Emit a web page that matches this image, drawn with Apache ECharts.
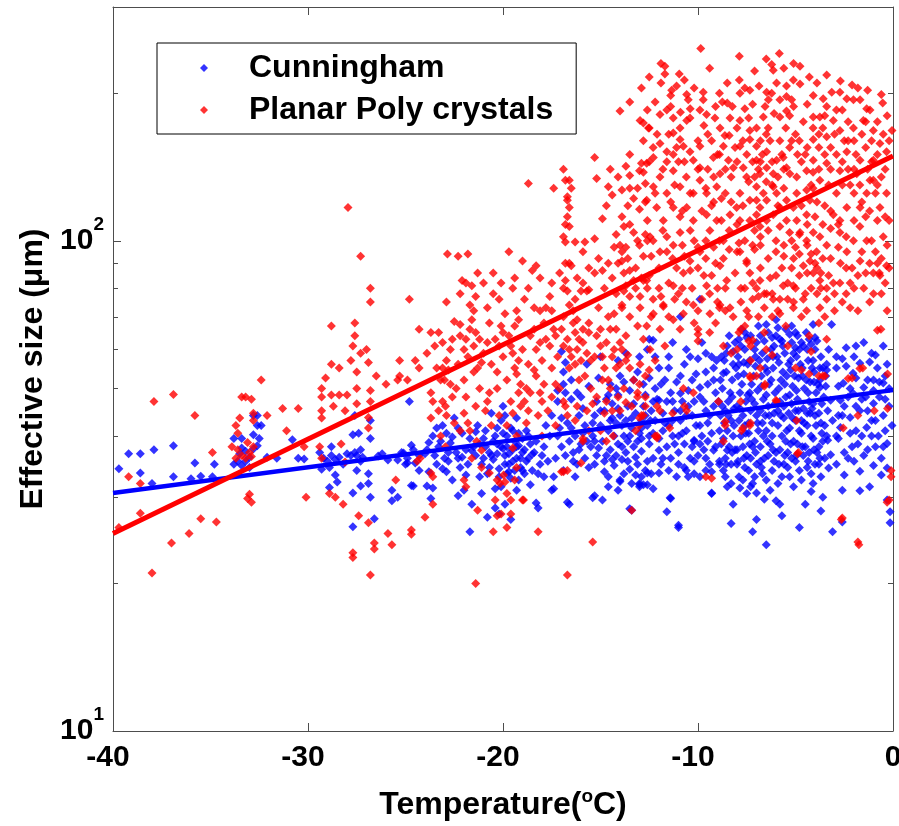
<!DOCTYPE html>
<html>
<head>
<meta charset="utf-8">
<script src="https://cdn.jsdelivr.net/npm/echarts@6/dist/echarts.min.js"></script>
<style>
  html, body { margin: 0; padding: 0; background: #fff; }
  #chart { width: 899px; height: 826px; }
</style>
</head>
<body>
<div id="chart"></div>
<script>
// tick values
const xTicks = [-40, -30, -20, -10, 0]
const yMajorTicks = [10, 100]
const yMinorTicks = [20, 30, 40, 50, 60, 70, 80, 90, 200]

// fitted lines (end points)
const cunninghamFit = [[-40, 30.6], [0, 49.6]]
const planarFit = [[-40, 25.3], [0, 149]]

// Cunningham points [temperature, size]
const cunninghamPts = [
  [-39.7,34.3],[-39.2,36.8],[-38.6,36.8],[-38.6,33.6],[-37.9,37.5],[-38,32],[-36.9,38.2],[-36.9,33],[-35.8,35.2],[-36,32.7],[-35.5,33.1],[-34.8,35],[-34.9,33],
  [-33.8,39.5],[-33.4,39.5],[-33.4,37.8],[-33.2,37.2],[-33.6,35.5],[-33.8,35],[-33.4,34.8],[-33.2,35.5],[-33,36.2],[-32.8,37.6],[-32.6,38.2],[-32.5,39.5],[-32.8,40.2],[-32.8,44],[-32.6,44],[-32.6,42],[-33.5,36.8],[-33,34.5],
  [-32.4,42],[-32.1,36.2],[-31.6,36],[-30.8,39.3],[-30.5,36],[-30.2,35.9],
  [-29.4,37],[-29.2,36],[-29,35.5],[-28.8,36.5],[-28.6,35.8],[-28.4,36.2],[-28.2,35],[-28.8,38],[-28.9,34.5],[-28.6,33.3],[-28.5,32.2],[-28.9,31.4],[-29.3,34.2],[-28,36.8],
  [-27.7,40.2],[-27.6,44],[-27.4,40.5],[-27.3,37.5],[-27.6,37],[-27.8,36.5],[-27.3,35.5],[-27.5,34],[-27.3,31.6],[-27.7,30.6],[-27.7,26.1],[-27.5,36.5],[-27.2,36.2],
  [-26.8,43],[-26.8,39.5],[-26.9,33.5],[-26.9,32],[-26.8,30],[-26.6,27.1],[-26.4,36.4],[-25.9,35.7],[-25.4,35.7],[-25.7,31],[-25.7,29.5],[-25.4,30],[-24.8,47],[-24.9,35.2],[-24.7,31.7],[-26.2,36.8],[-25.1,36.9],
  [-25.2,37],[-24.9,36],[-24.6,37.5],[-24.3,36.5],[-25,35],[-24.5,35.2],[-24,36.8],[-24.7,38.3],
  [-23.6,40],[-23.3,38],[-23,36],[-22.7,38.7],[-22.4,37],[-22.1,40.5],[-23.4,35],[-22.9,33.8],[-22.2,34.5],[-23.1,42],[-22.5,43.5],[-21.9,37.5],[-23.8,33.8],[-22.6,32.5],
  [-23.6,31.3],[-24.6,31.6],[-23.9,31.6],[-23.7,29.8],[-22,31],[-21.6,29],[-21.7,25.5],[-20.8,27.3],[-20.4,28.5],[-20.2,27.7],[-18.3,29.2],[-17.5,31],[-16.7,29.3],[-15.4,29.9],[-14.9,29.6],[-14,32.3],[-13.5,28.4],[-13,31.8],[-12.6,31.8],
  [-21.3,42],[-21,39.5],[-20.7,37],[-20.4,40],[-20.1,43],[-19.8,38],[-19.5,35.5],[-19.2,40.5],[-18.9,37.5],[-21.1,35],[-20.8,33.5],[-20.5,35.8],[-20.2,33],[-19.9,35],[-19.6,32.8],[-19,34],[-21.5,38],[-20.6,44.5],[-20,46],[-19.3,43.5],[-18.8,41],
  [-20.1,38],[-19.9,36.5],[-19.7,35],[-19.5,37.5],[-19.3,36],[-19.1,34.5],[-19.8,33.5],[-19.4,39],[-19,37],[-18.8,35.5],[-20,40.5],[-19.6,41.5],[-18.6,38.5],[-19.2,32.5],[-20.1,31.5],[-19.9,29],[-19.6,27],[-18.5,34],[-18.2,28.5],[-17.4,31.2],[-16.6,29],
  [-24.3,34],[-23.9,37.5],[-23.5,36.5],[-23.2,39],[-22.8,37],[-22.3,36],[-21.8,35],[-21.4,36.5],[-21.2,33],[-20.9,38],[-20.6,36.5],[-20.3,38.5],[-19.7,36.8],[-19.4,34],[-19.2,38.2],[-18.7,36],[-18.4,37],[-18.1,35],[-17.9,38],[-17.8,42],[-21.7,39.5],[-22.9,40.5],[-20.3,41.5],[-19.9,44],
  [-23.8,38.8],[-23.4,41.5],[-23.1,34.3],[-22.8,35.5],[-22.6,39.8],[-22.3,41.5],[-22.1,36.2],[-21.9,33.3],[-21.6,37.3],[-21.4,40.8],[-21.2,38.5],[-21,36],[-20.9,41],[-20.7,34.5],[-20.5,39],
  [-20.3,36.8],[-20.2,34.3],[-20,37.7],[-19.8,40],[-19.7,33.8],[-19.5,41],[-19.3,38],[-19.1,36],[-19,39.5],[-18.9,33.5],[-18.7,40],[-18.5,36.7],[-18.3,39],[-18.2,33.5],[-18,36.5],
  [-20.4,31.2],[-21.1,30.5],[-22.3,30.2],[-19.3,31],[-18.6,31.8],[-17.9,33],[-17.1,41.5],[-16.7,42.5],[-16.3,40],[-15.8,42],[-15.4,42.5],[-17.2,49.5],[-16.5,52],[-15.6,50.5],[-15.1,52.5],[-16.9,54],[-15.7,56],
  [-17.2,40],[-17,38],[-16.8,36.5],[-16.6,39],[-16.4,37],[-16.2,35],[-16,38.5],[-15.8,36],[-15.6,34.5],[-16.9,34],[-16.5,41.5],[-15.9,40.5],[-17.3,36],[-16.3,33],[-15.5,38],[-17,43.5],[-16.1,44],
  [-17,59.5],[-16.8,56.5],[-16.9,51],[-16.5,47.5],[-16.2,49],[-16.8,49],
  [-17.6,40],[-17.5,44],[-17.2,47],[-16,48],[-15.9,45.5],[-17.7,35.5],[-17.4,33],
  [-16.4,35.5],[-16.1,37.5],[-15.7,39],[-15.3,35],[-15.1,37.8],[-14.7,36.5],[-14.2,36.5],[-13.8,33.5],[-13.6,39],[-13.2,36.2],[-12.9,39.5],[-12.6,35.5],[-14.4,43.5],[-13.9,42],[-13.4,43.5],[-12.9,43],[-15.3,44],[-14.1,48.5],[-13.5,49.5],[-12.7,48.5],
  [-15.3,39],[-15,45],[-14.7,47.5],[-14.5,43],[-14.3,40],[-14.1,45.5],[-13.9,38],[-13.7,43],[-13.5,40],[-13.3,46.5],[-13.1,39],[-12.9,41.5],[-12.7,44],[-12.5,40],[-12.3,47],
  [-14.8,33.8],[-14.4,35.8],[-13.6,35.5],[-12.9,33],[-12.4,33.5],[-13.2,33.3],[-14.6,48.5],[-13.8,51.5],[-13.1,54],[-12.5,52.5],[-14.2,50],[-12.2,58],
  [-15,58],[-14.1,57],[-13.7,59],[-13,58],[-12.6,60],[-14.5,51],[-14,53],[-13.3,52],[-12.8,51],
  [-15.2,47],[-14.8,45],[-14.4,46.5],[-14,44],[-13.6,46],[-13.2,44.5],[-12.8,46],[-12.4,45],[-15,42],[-14.6,41],[-14.2,42.5],[-13.8,40],[-13.4,41.5],[-13,40.5],[-12.6,42],
  [-14.9,39],[-14.5,37.5],[-14.1,38.5],[-13.7,37],[-13.3,38],[-12.9,37.2],[-12.5,38.5],[-14.8,35.5],[-14.3,34.8],[-13.9,35.8],[-13.5,34.2],[-13.1,35],[-12.7,34],
  [-14.6,33],[-14,32.5],[-13.4,32],[-12.8,31.8],[-15.2,36.5],[-15.4,40],[-12.3,36],
  [-14.6,31.5],[-14.1,31],[-13,31.5],[-12.3,31.2],[-11.4,29.8],[-11,26],[-13.4,28.2],[-15.3,30.2],
  [-12,55],[-11.7,52],[-11.4,49],[-11.1,51.5],[-10.8,47],[-10.5,49.5],[-12.1,47.5],[-11.8,44.5],[-11.5,42],[-11.2,45],[-10.9,43],[-10.6,41],[-10.3,44],
  [-12,39.5],[-11.6,38],[-11.3,40],[-11,37],[-10.7,38.5],[-10.4,36],[-11.9,35],[-11.5,34],[-11.1,33],[-10.7,34.5],[-10.2,39],[-9.9,42],[-9.6,45],[-9.3,40.5],
  [-9.7,37.5],[-9.4,35],[-9.1,38],[-9.9,48],[-9.5,51],[-10.1,53.5],[-9.2,55],[-11.5,58],[-10.6,60],[-9.8,62],[-9.9,76],[-10.9,70],[-12.5,63],
  [-12.2,50],[-11.8,41],[-11.4,36],[-11,40],[-10.6,44],[-10.2,47],[-9.8,40],[-9.5,42.5],[-9.2,46],[-12.2,43],[-11.6,47],[-10.9,53],[-10.3,52],[-9.6,54],[-9.1,49],[-10,36.5],[-10.5,33],[-9.3,33.8],[-12.3,40.5],[-11.9,51],
  [-11.7,42.5],[-11.3,47],[-10.9,45],[-10.5,46],[-10.1,42],[-9.7,47],[-9.4,44],[-11.2,38.5],[-10.8,40.5],[-10.3,38],[-9.9,38.5],[-9.5,39],[-11.5,55],[-10.7,56],[-10,57.5],[-9.3,58],
  [-11.8,36],[-11,35],[-10.2,33.5],[-9.6,34],
  [-9.9,33],[-9.3,30.5],[-10.2,35.5],[-9.2,37.4],[-8.9,35.5],
  [-12.3,62.7],[-11.3,62],[-10.4,58],[-9.6,59],[-9.05,57],[-8.7,53.7],[-9.2,52],[-9.9,50.2],[-10.9,48.9],[-12,47.3],[-12.45,43],[-11.3,43],[-10.2,39.2],
  [-9.6,36],[-12,37.4],[-12.6,33.6],[-13,32],[-12,33.6],[-10.6,34],[-8.5,37.4],[-8.9,35],
  [-11.43,29.9],[-11.6,28],[-11,26.3],[-9.3,30.6],[-7.85,31.3],[-7.3,31.5],[-7,30.6],[-6.6,29.7],[-5.8,29],[-4.2,30.8],[-3.7,28.1],[-2.6,26.7],[-1.7,30.9],
  [-0.15,28],[-0.15,26.6],[-0.3,29.6],[-0.3,34.4],[-0.6,33.3],[-0.3,38.6],[-0.05,42],[-0.75,40],[-1,34.8],[-1.7,33.9],[-2.5,33.3],[-2.1,38],[-2.5,37],
  [-3.2,36.6],[-3.35,39.2],[-3.3,34.4],[-1.2,56.6],[-0.5,61],[-1.7,56.3],[-2.05,53.7],[-2.55,51.2],[-2.7,47.3],[-2.05,48.9],[-1.5,50.2],[-1,52],[-0.5,51.3],
  [-1,46.6],[-1.7,45],[-2.2,43.6],[-1.35,41.6],[-2.7,41.6],[-3.2,47.3],[-3.15,67.5],[-4.1,57],[-3.4,54.5],[-3.75,50.2],
  [-2.9,55],[-2.6,44],[-2.3,48],[-2,58],[-1.9,46],[-1.6,40],[-1.4,48],[-1.1,43],[-0.8,55],[-0.5,44],[-0.2,50],[-2.8,50.5],[-2.4,55.5],[-1.3,52],[-0.7,48],
  [-2.9,35],[-2.2,40.5],[-1.5,36.5],[-0.9,38],[-0.4,41],[-2.6,31],[-1.2,31.5],[-0.6,36],
  [-2.8,44],[-2.5,46],[-2.2,50],[-1.9,52.5],[-1.6,47.5],[-1.3,45],[-1,49.5],[-0.7,51.5],[-0.4,53],[-0.2,46],[-2.9,40],[-2.3,36],[-1.8,38.5],[-1.1,40],[-0.5,38],
  [-2.6,57.5],[-1.9,61],[-1.1,59],[-0.3,56],
  [-8.8,58],[-8.75,50],[-8.85,44],[-8.8,38.5],[-8.7,34],
  [-8.5,61],[-8.55,54],[-8.45,47],[-8.5,41],[-8.6,36],[-8.5,31.5],
  [-8.2,56],[-8.25,52],[-8.15,45.5],[-8.2,40],[-8.3,35],[-8.2,29],
  [-7.9,63],[-7.95,58],[-7.85,49],[-7.9,43],[-8,37.5],[-7.9,33],
  [-7.6,60],[-7.65,53.5],[-7.55,47],[-7.6,42],[-7.7,38],[-7.6,34.5],[-7.5,30.5],
  [-7.3,64],[-7.35,57],[-7.25,51],[-7.3,45],[-7.4,40.5],[-7.3,36],[-7.2,32],
  [-7,62],[-7.05,55.5],[-6.95,49.5],[-7,44],[-7.1,39],[-7,35],[-7,27],
  [-6.7,59],[-6.75,53],[-6.65,47.5],[-6.7,42.5],[-6.8,38],[-6.7,33.5],
  [-6.4,65],[-6.45,57.5],[-6.35,51],[-6.4,46],[-6.5,41],[-6.4,36.5],[-6.3,31],
  [-6.1,61],[-6.15,55],[-6.05,49],[-6.1,44.5],[-6.2,40],[-6.1,35.5],[-6,29.5],
  [-5.8,63],[-5.85,56.5],[-5.75,52],[-5.8,47],[-5.9,42],[-5.8,37.5],[-5.7,33],
  [-5.5,66],[-5.55,59],[-5.45,53],[-5.5,48],[-5.6,43.5],[-5.5,39],[-5.4,34.5],
  [-5.2,62],[-5.25,57],[-5.15,50.5],[-5.2,46.5],[-5.3,41.5],[-5.2,36],[-5.1,31.5],
  [-4.9,64],[-4.95,58],[-4.85,52.5],[-4.9,47.5],[-5,43],[-4.9,38.5],[-4.8,34],
  [-4.6,61],[-4.65,55],[-4.55,50],[-4.6,45.5],[-4.7,40.5],[-4.6,36.5],[-4.5,29],
  [-4.3,63],[-4.35,57],[-4.25,51.5],[-4.3,47],[-4.4,42],[-4.3,37],[-4.2,33.5],
  [-4,60],[-4.05,54],[-3.95,49],[-4,44],[-4.1,39.5],[-4,35],
  [-3.7,58],[-3.75,52],[-3.65,46.5],[-3.7,42.5],[-3.8,38],[-3.7,33],
  [-3.4,56],[-3.45,50.5],[-3.35,45],[-3.4,40],[-3.5,36],
  [-8.95,47],[-8.65,57],[-8.35,49],[-8.05,55],[-7.75,51],[-7.45,56],[-7.15,53],[-6.85,57],[-6.55,55],[-6.25,52],[-5.95,58],[-5.65,54],[-5.35,56],[-5.05,53],
  [-4.75,56],[-4.45,52],[-4.15,55],[-3.85,51],[-3.55,48],
  [-8.9,41],[-8.6,45],[-8.3,43],[-8,46],[-7.7,44],[-7.4,42.5],[-7.1,46.5],[-6.8,45],[-6.5,48.5],[-6.2,42.5],[-5.9,45],[-5.6,46],[-5.3,48.5],[-5,45],[-4.7,43],
  [-4.4,44.5],[-4.1,46.5],[-3.8,44.5],[-3.5,42],
  [-8.7,39.5],[-8.4,38],[-8.1,37.5],[-7.8,40],[-7.5,36.5],[-7.2,38],[-6.9,41],[-6.6,36],[-6.3,38.5],[-6,37],[-5.7,40],[-5.4,37],[-5.1,39],[-4.8,41],[-4.5,38],
  [-4.2,40],[-3.9,37],[-3.6,39],
  [-8.6,33],[-8.3,32],[-8,35],[-7.7,32.5],[-7.4,34],[-7.1,33],[-6.8,35.5],[-6.5,32.5],[-6.2,34],[-5.9,32],[-5.6,35],[-5.3,33],[-5,35.5],[-4.7,32.5],[-4.4,34.5],
  [-4.1,32],[-3.8,35],
  [-8.85,52],[-8.55,59],[-8.25,48],[-7.95,53],[-7.65,56.5],[-7.35,49],[-7.05,58],[-6.75,50.5],[-6.45,54],[-6.15,58],[-5.85,50],[-5.55,51],[-5.25,54.5],
  [-4.95,49.5],[-4.65,53],[-4.35,49],[-4.05,51.5],[-3.75,55],[-3.45,53],
  [-8.75,46],[-8.45,44],[-8.15,42],[-7.85,45.5],[-7.55,40.5],[-7.25,47.5],[-6.95,42.5],[-6.65,40],[-6.35,44],[-6.05,46.5],[-5.75,44],[-5.45,41],[-5.15,43.5],
  [-4.85,45],[-4.55,42.5],[-4.25,44.5],[-3.95,42],[-3.65,40.5],
  [-8.55,35],[-8.25,37],[-7.95,35.5],[-7.65,36],[-7.35,38.5],[-7.05,37],[-6.75,34.5],[-6.45,39],[-6.15,37.5],[-5.85,35],[-5.55,36.5],[-5.25,38.5],[-4.95,36.5],
  [-4.65,38],[-4.35,35.5],[-4.05,37.5],[-3.75,36],
  [-7.6,65],[-6.8,64],[-5.9,66.5],[-5,65],[-4.2,61.5],[-6.5,67.5],[-7.9,56],[-5.7,62.5],[-4.8,60],
  [-8.4,64],[-7.8,61],[-7.1,60],[-6.6,62.5],[-6,64],[-5.3,64.5],[-4.7,62],[-4,63.5],[-3.3,60],[-8.2,59.5],[-7.5,63.5],[-6.25,60],[-5.1,59],[-4.4,60],[-3.6,55],
  [-8.3,26.5],[-7.2,25.5],[-6.5,24],[-5.7,27.5],[-4.8,26],[-3.6,30],[-3.1,25.5],[-5.2,67],[-4.1,67.5],[-6,69],
  [-8.1,62],[-7.75,66],[-6.9,67],[-6.2,63.5],[-5.65,61],[-5,60.5],[-4.45,65],[-3.9,62.5],[-2.9,58],[-2.4,60.5],[-1.5,62],[-0.9,58.5],
  [-8.65,42.5],[-7.45,48.5],[-6.55,44],[-5.35,44.5],[-4.15,45.5],[-3.1,43],[-2.8,39.5],[-1.9,41],[-0.9,43],[-0.4,47.5],[-1.3,37.5],[-2,35.5]
]

// Planar poly crystal points [temperature, size]
const planarPts = [
  [-39.7,26],[-39.2,33],[-38.6,32],[-38.6,27.8],[-37.9,47],[-38,21],[-36.9,48.6],[-37,24.2],[-36.1,25.3],[-35.8,44],[-35.5,27.1],[-34.9,37],[-34.7,26.7],
  [-33.5,43.5],[-33.7,42],[-33.6,40.5],[-33.4,48],[-33.2,48],[-32.9,47.5],[-32.8,44.5],[-32.8,43],[-33.9,38],[-33.6,37.5],[-33.4,36.5],[-33.2,36],[-33,37],
  [-32.8,38],[-33.7,36],[-33.1,38.8],[-32.9,36.3],[-33,30.4],[-32.9,29.3],[-33.1,29.8],[-32.4,52],
  [-32.1,44],[-31.3,45.5],[-31.1,41],[-30.5,45.5],[-30.2,38],[-30.1,30],[-29.4,38],[-29.3,36],[-29.3,50],[-29.3,48],[-29.3,45],[-29.3,43.5],[-29.1,52.5],
  [-28.8,67],[-28.8,56],[-28.4,55],[-28.8,48.5],[-28.4,48.5],[-28,48.5],[-28.7,46],[-28.1,45],[-27.95,117],[-27.6,68],[-27.6,64],[-27.7,61],[-27.8,57],
  [-27.5,54],[-27.5,50],[-27.5,46.5],[-27.3,93],[-27.3,59],[-27,60],[-26.9,56.5],[-26.8,80],[-26.8,75],[-26.8,49.5],[-26.8,47],[-26.9,43.6],[-26.9,41.5],
  [-26.5,53],[-28.1,35.4],[-28.9,30.5],[-28.6,30],[-28.2,29],[-27.7,23.1],[-27.7,22.6],[-27.4,27.5],[-26.9,26.6],[-26.6,24.2],[-26.6,23.5],[-26.8,20.8],[-28.3,38.5],
  [-26,51],[-25.4,52],[-24.9,52],[-24.8,76],[-25.9,25.3],[-25.7,24],[-25.5,32.5],[-24.7,25.7],[-25.3,57],[-24.5,57],[-24.3,55],[-25.3,53],[-24.3,66],
  [-23.7,65],[-23.3,65],[-23.1,62],[-22.9,57],[-22.8,54.5],[-22.5,68.5],[-22.2,67.5],[-22.2,64],[-21.9,63],[-21.7,66],[-21.6,69],[-21.4,65],[-21.2,63],
  [-21.5,61],[-21.7,74],[-21.5,72],[-20.7,68],[-20.4,63],[-20.2,61],[-20,65],[-19.6,61],[-19.5,59],[-19.2,57],[-19.4,55],[-19.3,53.5],[-19.1,51],[-18.8,50],
  [-18.6,49],[-18.9,47],
  [-23.9,59],[-23.4,55],[-23,52],[-22.7,60],[-22.3,56],[-22,52],[-21.8,58],[-21.3,55],[-21,59],[-20.6,56],[-20.3,54],[-20,58],[-19.8,52],[-19.9,71],[-20.5,78],
  [-19.5,80],[-18.9,76],[-18.6,64],[-18.3,60],[-18,57],[-17.8,63],[-17.4,66],[-17.2,58],[-16.9,70],[-16.4,68],[-16.2,60],[-15.8,53],[-15.5,57],[-15.2,64],
  [-15.5,50],[-15.2,48],[-14.9,52],[-14.3,60],[-14.2,55],[-14.1,48],[-13.8,50],[-18.2,44],[-17.7,45],[-17.3,42],[-16.7,44],[-16.2,46],[-15.7,45],[-22.4,50],
  [-23.2,52],[-21.9,48],[-20.9,45],[-20.6,42],[-19.2,49],[-18.7,45],
  [-23.5,61],[-22.6,63],[-22,60],[-21.5,54],[-21.1,56.5],[-20.8,62],[-20.1,67],[-19.7,64],[-19.4,67],[-19,60],[-18.7,56],[-18.4,66],[-18.1,62],[-17.9,68],
  [-17.6,61],[-17.3,64],[-17,66],[-16.7,63],[-16.5,58],[-16.2,69],[-15.9,62],[-15.6,68],[-15.3,58],[-15,66],[-14.7,62],[-14.4,58],[-14.2,66],[-13.9,60],[-13.7,64],
  [-22.9,75],[-22.2,78],[-21.4,77],[-20.8,73],[-20.1,82],[-19.4,84],[-18.7,80],[-18.1,84],[-17.5,82],[-17.1,86],[-16.2,84],[-15.6,88],[-15.1,92],[-14.8,80],
  [-14.4,84],[-14.1,90],[-13.7,97],
  [-23.1,55],[-22.7,51],[-21.4,46],[-20.2,44],[-19.3,40],[-18.8,42.5],[-18,40],[-17.5,48],[-16.8,46],[-16.1,52],[-15.4,46.5],[-14.7,47],[-14,45],[-13.4,46],[-12.8,44],
  [-22.85,94],[-22.3,93],[-21.8,94],[-22.1,83],[-21.9,82],[-21.6,81],[-21.3,86],[-21,82],[-20.5,86],[-20.2,76],[-19.7,95],[-19,91],[-18.5,87],[-18.3,89],
  [-19.3,72],[-19.2,69],[-18.4,73],[-18.1,72],[-17.8,73],[-17.5,72],[-17.6,77],[-18.7,131],
  [-23.7,49],[-23.6,47],[-23.3,45],[-22.95,46],[-22.6,48],[-23.1,47],[-23.7,43.5],[-22.9,44],[-22.5,42.5],[-23.2,40],[-22.95,38],[-23.6,33],[-23.7,33.6],
  [-24.4,35.5],[-24.25,36],[-22,44.5],[-21.8,42.5],[-22.2,41],[-21.7,41],[-21.35,39],[-21.1,37.4],[-21.6,36],[-22,32.5],[-21.9,31.5],[-21.1,34.5],[-20.7,33.6],
  [-20.3,32.5],[-19.97,33.3],[-20.15,32],[-19.8,30.5],[-20.1,27.7],[-19.6,29.6],[-19.3,34.5],[-19.4,32.5],[-18.95,29.6],[-20.4,29.6],[-20.3,27.5],[-19.8,26],
  [-23.6,29],[-24,27.3],[-24.7,25.2],[-21.3,28.2],[-20.5,25.5],[-21.4,20],
  [-19.6,47],[-19.5,44.5],[-19.8,42],[-19.1,46],[-20.7,49],[-21.2,50],[-20.8,47],[-20.3,50],[-18.4,54.5],[-18.3,53],[-17.9,51],[-18,47],[-18.1,49],
  [-19.5,37.8],[-19.9,32.2],[-19.6,27.7],[-19,29.6],
  [-17.5,55],[-17.3,51],[-17.1,50],[-16.9,47],[-16.9,61],[-16.6,60],[-16.3,65],[-16.1,63],[-15.9,66],[-15.6,65],[-15.7,59],[-16,57],[-16.3,56],[-16.6,55],
  [-15,61],[-14.9,58],[-14.8,55],[-14.6,52],[-14.5,50],
  [-16.9,140],[-16.8,133],[-16.6,133],[-16.5,128],[-16.7,123],[-16.7,121],[-16.6,117],[-16.7,112],[-16.8,108],[-16.6,107],[-17.4,128],[-16.9,102],
  [-16.8,99.5],[-16.3,99.5],[-15.8,99.5],[-15.9,95],[-15.3,101],[-14.9,111],[-15.3,148],[-15.2,134],[-14.6,129],
  [-14.7,118],[-14.4,124],[-14.1,135],[-14.5,140],[-14.3,97],[-13.6,118],[-13.3,122],[-13,116],[-12.7,120],[-14,98],
  [-16.8,90],[-16.6,90],[-16.5,89],[-16.8,83],[-16.9,80],[-16.7,79],[-16.6,74],[-15.9,82],[-16,79],[-15.6,79.5],[-16.3,76],[-16.4,72],[-15.3,86],[-15.7,79],
  [-15.1,73],[-14.6,70],[-14.3,71],[-14.9,87],[-14.6,90],
  [-16.9,33.8],[-16.7,34],[-16,35.2],[-16.3,43],[-15.9,39],[-15.6,41],[-15,41],[-14.7,39],[-14.35,40],[-14.8,44.5],[-14.4,45],[-18.2,25.5],[-16.7,20.8],
  [-15.4,24.3],[-17,33.8],[-15.9,39.5],
  [-13.5,192],[-14,184],[-12.8,174],[-12.5,170],[-13.5,150],[-13.7,142],[-13.5,136],[-12.9,144],[-13,139],[-12.5,145],[-13.9,127],[-13.5,128],[-13.1,128],
  [-12.7,131],[-13.9,112],[-13.8,107],[-13.5,108],[-13.3,104],[-13.1,100],[-12.7,103],[-12.6,100],[-14.2,103],[-13,98],[-12.8,93],
  [-13.9,91],[-13.8,86],[-13.5,87],[-13.3,83],[-13.7,81],[-13.8,79],[-13.5,77],[-13.2,80],[-12.8,83],[-12.5,85],[-13.9,73],[-14,56],[-13.7,57],[-13.5,55],
  [-13.3,52],[-13,51],[-13.1,49],[-12.7,53],[-12.5,54.5],
  [-13.9,95],[-13.6,92],[-13.2,88],[-12.9,84],[-12.6,80],[-12.3,76],[-14.2,78],[-13.9,74],[-13.5,70],[-13.1,67],[-12.8,63],[-14.5,66],[-14,62],[-13.6,58.5],
  [-13,42],[-13.2,41],[-13.7,46.8],[-13.1,48],[-12.7,46],[-13,43.5],[-13.4,28.2],
  [-12.5,216],[-11.7,227],[-11.7,219],[-10.96,219],[-9.86,247],[-11.35,203],[-11.1,207],[-11.4,198],[-10.58,199],[-10.5,194],[-10.4,186],[-9.73,201],
  [-9.73,194],[-11.6,185],[-11.27,178],[-10.92,170],[-10.58,176],[-10.41,178],[-11.95,181],[-12.54,170],[-12.97,176],[-11.27,166],[-10.92,161],[-10.75,156],
  [-10.41,152],[-10.24,146],[-9.9,141],[-11.95,158],[-11.6,152],[-11.27,150],[-12.29,148],[-12.63,144],[-9.9,156],[-9.21,148],[-8.7,156],[-8.44,146],
  [-8.19,141],[-8.75,192],[-8.5,191],[-8.24,188],[-9.56,181],[-9.13,178],[-8.87,170],[-8.62,164],[-8.36,178],
  [-12.8,138],[-12.29,129],[-12.12,117],[-11.78,110],[-12.63,121],[-12.46,102],[-11.6,102],[-11.95,95],[-11.27,98],[-10.92,104],[-11.27,117],[-10.58,117],
  [-10.24,125],[-9.56,113],[-9.39,105],[-9.04,110],[-8.7,100],[-9.9,95],[-10.41,91],[-10.75,86],[-11.27,81],[-11.78,74],[-12.29,71],[-12.63,83],[-12.97,77],
  [-9.56,81],[-8.87,89],[-8.53,83],[-9.39,71],[-8.87,74],[-8.36,73],[-10.24,74],[-10.75,71],
  [-11.95,135],[-11.27,139],[-10.92,129],[-11.6,125],[-9.9,133],[-9.56,125],[-9.04,129],[-8.87,137],[-10.24,110],[-10.92,112],
  [-12.4,70],[-11.9,77],[-11.5,82],[-11.1,88],[-10.7,93],[-10.3,80],[-10,72],[-9.7,85],[-9.4,78],[-9.1,90],[-12.2,57],[-11.7,61],
  [-12.97,73],[-11.78,73.5],[-11.27,69],[-12.63,67],[-11.95,66],[-10.92,66],[-12.46,60],[-12.97,56],[-12.7,48],[-12.9,44],[-12.2,40],[-10,66],[-10,64.5],
  [-10,62.5],[-9.1,68],[-8.9,73],[-8.6,72],[-10.75,50],[-10.58,45],[-10.24,49],[-11.95,45],[-11.45,41.5],[-12.1,40],[-8.95,47],[-8.6,42],[-9.6,33],
  [-8.7,39],[-12.1,46],[-12.1,39.6],[-11.3,44.5],[-10.7,46],[-9.3,32.8],[-8.6,42.8],
  [-12.9,205],[-12.2,192],[-11.9,210],[-11.4,188],[-10.9,183],[-10.2,205],[-9.7,172],[-9.3,160],[-9.1,188],[-8.9,150],[-8.4,164],[-8.1,155],[-7.6,186],
  [-7.2,190],[-7,170],[-6.8,160],[-6.4,170],[-6.1,182],[-5.8,160],[-5.5,170],[-5.2,160],[-4.9,150],[-4.6,175],[-4.4,190],[-4.1,170],[-3.8,155],[-3.5,150],
  [-3.2,140],[-2.9,150],[-2.6,185],[-2.3,175],[-2,160],[-1.8,205],[-1.4,155],[-1.1,160],[-0.8,175],[-0.4,140],[-0.2,110],
  [-12.6,110],[-12.2,125],[-11.8,140],[-11.4,120],[-11,145],[-10.6,135],[-10.2,100],[-9.8,115],[-9.5,140],[-9.2,120],[-8.9,100],[-8.6,125],[-8.3,135],
  [-8,145],[-7.7,118],[-7.4,132],[-7.1,105],[-6.8,98],[-6.5,132],[-6.2,145],[-5.9,135],[-5.6,128],[-5.3,104],[-5,97],[-4.7,118],[-4.4,108],[-4.1,128],
  [-3.8,140],[-3.5,118],[-3.2,106],[-2.9,125],[-2.6,130],[-2.3,140],[-2,125],[-1.7,107],[-1.4,112],[-1.1,100],[-0.8,110],[-0.5,102],[-0.3,98],
  [-12.4,93],[-12,88],[-11.6,95],[-11.2,76],[-10.8,80],[-10.4,87],[-10,97],[-9.6,92],[-9.3,85],[-9,80],[-8.7,92],[-8.4,96],[-8.1,86],[-7.8,80],[-7.5,72],
  [-7.2,82],[-6.9,77],[-6.6,73],[-6.3,84],[-6,95],[-5.7,88],[-5.4,76],[-5.1,92],[-4.8,85],[-4.5,78],[-4.2,94],[-3.9,88],[-3.6,92],[-3.3,85],[-3,78],
  [-2.7,90],[-2.4,78],[-2.1,88],[-1.8,85],[-1.5,80],[-1.2,90],[-0.9,95],[-0.6,78],[-0.3,72],
  [-12.8,160],[-12.3,155],[-11.5,165],[-11.1,155],[-10.7,145],[-10,160],[-9.5,165],[-9.2,135],[-8.8,122],[-8,170],[-7.5,150],[-7.2,145],[-6.9,140],
  [-6.7,150],[-6.3,160],[-5.7,150],[-5.3,155],[-4.8,160],[-4.5,150],[-4.2,130],[-3.9,120],[-3.3,130],[-3,165],[-2.5,160],[-2.2,130],[-1.9,150],[-1.6,165],
  [-1.3,140],[-0.9,125],[-0.6,135],[-0.2,160],
  [-12.6,185],[-12.1,165],[-11.6,145],[-11.2,130],[-10.8,115],[-10.4,125],[-10,140],[-9.6,128],[-9.3,118],[-9,150],[-8.6,140],[-8.3,120],[-8,108],[-7.7,160],
  [-7.4,178],[-7.1,135],[-6.8,145],[-6.5,165],[-6.2,130],[-5.9,118],[-5.6,140],[-5.3,180],[-5,165],[-4.7,145],[-4.4,155],[-4.1,138],[-3.8,165],[-3.5,180],
  [-3.2,155],[-2.9,185],[-2.6,145],[-2.3,160],[-2,140],[-1.7,130],[-1.4,175],[-1.1,145],[-0.8,150],[-0.5,165],[-0.3,180],
  [-12.3,100],[-11.8,105],[-11.3,92],[-10.8,98],[-10.4,105],[-10,88],[-9.6,100],[-9.2,97],[-8.8,110],[-8.4,105],[-8,95],[-7.6,100],[-7.2,98],[-6.8,102],
  [-6.4,105],[-6,100],[-5.6,98],[-5.2,100],[-4.8,103],[-4.4,98],[-4,112],[-3.6,108],[-3.2,115],[-2.8,108],[-2.4,102],[-2,110],[-1.6,120],[-1.2,115],[-0.8,130],[-0.4,112],
  [-12,80],[-11.5,70],[-11,78],[-10.6,75],[-10.2,68],[-9.8,76],[-9.4,65],[-9,75],[-8.6,80],[-8.2,70],[-7.8,75],[-7.4,70],[-7,80],[-6.6,78],[-6.2,70],[-5.8,76],
  [-5.4,82],[-5,80],[-4.6,76],[-4.2,80],[-3.8,68],[-3.4,80],[-3,72],[-2.6,75],[-2.2,82],[-1.8,72],[-1.4,86],[-1,78],[-0.6,92],[-0.2,88],
  [-11.9,230],[-10.7,213],[-9.4,225],[-8.5,210],[-7.1,222],[-6.5,235],[-5.6,225],[-5.1,230],[-3.9,210],[-3.4,218],[-2.7,212],[-2.1,208],[-1.3,203],
  [-0.6,199],[-8.9,200],[-9.9,185],[-7.6,205],
  [-7.88,238],[-5.83,241],[-6.22,229],[-6.14,223],[-4.77,227],[-4.29,216],[-7.88,213],[-5.97,210],[-5.11,213],[-5.46,207],[-4.77,209],[-7.85,200],[-7.34,203],
  [-6.87,207],[-6.48,201],[-6.22,200],[-6.39,194],[-6.56,188],[-6.65,179],[-5.8,194],[-5.46,197],[-5.2,194],[-5.1,188],[-5.46,184],[-5.8,179],[-4.09,198],
  [-3.58,195],[-3.4,188],[-3.75,179],[-4.09,179],[-3.6,170],[-3.14,201],[-7.85,176],[-7.34,168],[-7.85,156],[-7.34,161],[-7,156],[-6.48,152],[-5.97,146],
  [-5.63,148],[-5.46,141],[-5.29,137],[-4.94,135],[-3.4,163],[-4.09,161],[-4.09,146],[-3.4,144],[-4.43,139],[-3.75,133],
  [-7.68,141],[-7.51,135],[-7,129],[-6.65,125],[-6.82,117],[-7,121],[-7.34,121],[-7.85,125],[-8.02,117],[-8.36,113],[-7.85,110],[-7.34,110],[-6.82,107],
  [-6.14,113],[-5.8,117],[-5.46,121],[-4.94,125],[-4.43,127],[-4.26,121],[-4.43,113],[-4.94,110],[-4.77,104],[-4.43,100],[-4.09,104],[-3.75,102],[-3.4,98],
  [-3.92,95],[-4.26,91],[-4.6,89],[-4.09,86],[-3.75,83],[-3.7,80],
  [-6.48,121],[-5.97,125],[-5.46,110],[-6.48,110],[-7,113],[-5.8,107],[-5.11,117],[-6.14,129],[-6.82,137],[-6.14,137],[-6.48,141],[-7,146],
  [-7.85,95],[-7.51,91],[-7.34,86],[-6.82,83],[-6.48,78],[-6.14,76],[-5.63,81],[-5.11,81],[-5.8,71],[-5.11,73],[-4.43,72],[-3.75,73],[-3.4,76],
  [-7.9,99],[-7.5,90],[-7.1,96],[-6.8,88],[-6.4,92],[-6,85],[-5.6,93],[-5.2,88],[-4.8,94],[-4.4,86],[-4,90],[-3.7,86],[-7.6,80],[-7.2,76],[-6.9,70],[-6.6,65],
  [-6.2,78],[-5.9,72],[-5.5,67],[-5.1,75],[-4.7,70],[-4.3,64],[-3.9,78],[-3.5,70],[-7.8,66],[-7.4,62.5],[-6.5,60],[-5.4,61],[-4.2,59.5],[-3.4,63],
  [-7.9,65],[-7.6,67],[-7.2,62.7],[-7.3,61],[-8.7,61],[-8.3,59],[-8,60],[-7.3,57],[-6.8,55],[-6.2,58.5],[-5,55],[-4.7,54.5],[-4.3,53.5],[-3.8,53],[-3.5,53],
  [-7.34,53],[-7.34,42],[-7.77,41],[-6.56,51],[-5.97,47],[-4.94,43],[-4.85,37],[-7.7,41.5],[-7.8,47],[-7.3,42.5],[-7.3,52.5],[-7,53],[-6.6,50.5],[-6,47.3],
  [-4.9,36.8],[-3.6,53],
  [-2.72,201],[-2.37,195],[-2.03,194],[-1.69,194],[-1.35,186],[-1.18,185],[-0.53,191],[-0.05,168],[-3.06,176],[-2.72,168],[-2.03,170],[-1.52,176],[-1.01,168],
  [-0.67,158],[-2.37,152],[-1.69,146],[-1.01,146],[-0.33,152],[-2.72,139],[-1.86,137],[-1.18,133],[-3.06,113],[-2.72,110],[-2.37,117],[-1.69,117],[-1.35,125],
  [-1.01,133],[-0.67,117],[-0.33,125],[-2.72,104],[-2.03,100],[-1.35,100],[-2.37,95],[-1.69,91],[-1.01,86],[-0.67,85],[-0.33,89],[-3.06,82],[-2.72,82],[-2.2,73],
  [-3.2,92],[-2.8,97],[-2.4,88],[-2,80],[-1.6,95],[-1.2,75],[-0.8,90],[-0.4,82],
  [-0.62,66],[-2.1,52.5],[-1.55,55],[-0.96,45],[-0.28,45.5],[-0.28,53.5],[-2.55,41.5],[-1.8,44],[-0.1,34],[-0.1,33],[-0.2,29.6],[-2.65,27],[-1.75,24],
  [-2.3,52.4],[-2.6,27.2],[-1.8,24.3],[-0.3,29.3],[-1.7,54.9],[-0.7,86],[-0.8,65.7]
]

const FONT = '"Liberation Sans", Arial, Helvetica, sans-serif'
const AXIS_COLOR = '#4d4d4d'

const frameLine = { show: true, onZero: false, lineStyle: { color: AXIS_COLOR, width: 1 } }
const noSplit = { show: false }

const chart = echarts.init(document.getElementById('chart'), null, { renderer: 'canvas' })

const option = {
  animation: false,
  backgroundColor: '#fff',
  grid: { left: 113, right: 6, top: 7, bottom: 95, outerBoundsMode: 'none' },
  legend: {
    data: ['Cunningham', 'Planar Poly crystals'],
    orient: 'vertical',
    left: 157,
    top: 43,
    padding: [9, 23, 8, 43],
    itemGap: 10,
    itemWidth: 8,
    itemHeight: 8,
    borderColor: '#000',
    borderWidth: 1,
    selectedMode: false,
    textStyle: { fontFamily: FONT, fontSize: 32, fontWeight: 'bold', color: '#000', padding: [0, 0, 0, 36] }
  },
  xAxis: [
    {
      type: 'value', min: xTicks[0], max: xTicks[xTicks.length - 1], interval: 10, position: 'bottom',
      axisLine: frameLine,
      axisTick: { inside: true, length: 8, lineStyle: { color: AXIS_COLOR } },
      axisLabel: {
        margin: 12,
        // negative labels sit a little left of their tick in the original
        formatter: v => (v < 0 ? '{n|' + v + '}' : '{z|' + v + '}'),
        rich: {
          n: { fontFamily: FONT, fontSize: 30, fontWeight: 'bold', color: '#000', padding: [0, 10, 0, 0] },
          z: { fontFamily: FONT, fontSize: 30, fontWeight: 'bold', color: '#000' }
        }
      },
      splitLine: noSplit,
      name: '{a|Temperature(}{s|o}{a|C)}',
      nameLocation: 'middle',
      nameGap: 56,
      nameTextStyle: {
        rich: {
          a: { fontFamily: FONT, fontSize: 32, fontWeight: 'bold', color: '#000', lineHeight: 36, verticalAlign: 'middle' },
          s: { fontFamily: FONT, fontSize: 19, fontWeight: 'bold', color: '#000', lineHeight: 19, verticalAlign: 'top' }
        }
      }
    },
    {
      type: 'value', min: xTicks[0], max: xTicks[xTicks.length - 1], interval: 10, position: 'top',
      axisLine: frameLine,
      axisTick: { inside: true, length: 8, lineStyle: { color: AXIS_COLOR } },
      axisLabel: { show: false },
      splitLine: noSplit
    }
  ],
  yAxis: [
    {
      type: 'log', logBase: 10, min: 10, max: 300, position: 'left',
      axisLine: frameLine,
      axisTick: { inside: true, length: 8, customValues: yMajorTicks, lineStyle: { color: AXIS_COLOR } },
      axisLabel: {
        customValues: yMajorTicks,
        margin: 9,
        formatter: v => '{b|10}{s|' + Math.round(Math.log10(v)) + '}',
        rich: {
          b: { fontFamily: FONT, fontSize: 30, fontWeight: 'bold', color: '#000', lineHeight: 52, verticalAlign: 'middle' },
          s: { fontFamily: FONT, fontSize: 19, fontWeight: 'bold', color: '#000', lineHeight: 19, verticalAlign: 'top' }
        }
      },
      splitLine: noSplit,
      minorTick: { show: false },
      name: 'Effective size (\u03bcm)',
      nameLocation: 'middle',
      nameGap: 60,
      nameTextStyle: { fontFamily: FONT, fontSize: 32, fontWeight: 'bold', color: '#000' }
    },
    {
      type: 'log', logBase: 10, min: 10, max: 300, position: 'right',
      axisLine: frameLine,
      axisTick: { inside: true, length: 8, customValues: yMajorTicks, lineStyle: { color: AXIS_COLOR } },
      axisLabel: { show: false },
      splitLine: noSplit
    },
    {
      type: 'log', logBase: 10, min: 10, max: 300, position: 'left',
      axisLine: { show: false, onZero: false },
      axisTick: { inside: true, length: 5, customValues: yMinorTicks, lineStyle: { color: AXIS_COLOR } },
      axisLabel: { show: false },
      splitLine: noSplit
    },
    {
      type: 'log', logBase: 10, min: 10, max: 300, position: 'right',
      axisLine: { show: false, onZero: false },
      axisTick: { inside: true, length: 5, customValues: yMinorTicks, lineStyle: { color: AXIS_COLOR } },
      axisLabel: { show: false },
      splitLine: noSplit
    }
  ],
  series: [
    {
      name: 'Cunningham', type: 'scatter', data: cunninghamPts,
      symbol: 'diamond', symbolSize: 9, itemStyle: { color: '#0000ff' }, z: 2, silent: true
    },
    {
      name: 'Planar Poly crystals', type: 'scatter', data: planarPts,
      symbol: 'diamond', symbolSize: 9, itemStyle: { color: '#ff0000' }, z: 3, silent: true
    },
    {
      name: 'Cunningham fit', type: 'line', data: cunninghamFit, showSymbol: false,
      lineStyle: { color: '#0000ff', width: 4.5 }, z: 4, silent: true
    },
    {
      name: 'Planar fit', type: 'line', data: planarFit, showSymbol: false,
      lineStyle: { color: '#ff0000', width: 5 }, z: 5, silent: true
    }
  ]
}

chart.setOption(option)
</script>
</body>
</html>
